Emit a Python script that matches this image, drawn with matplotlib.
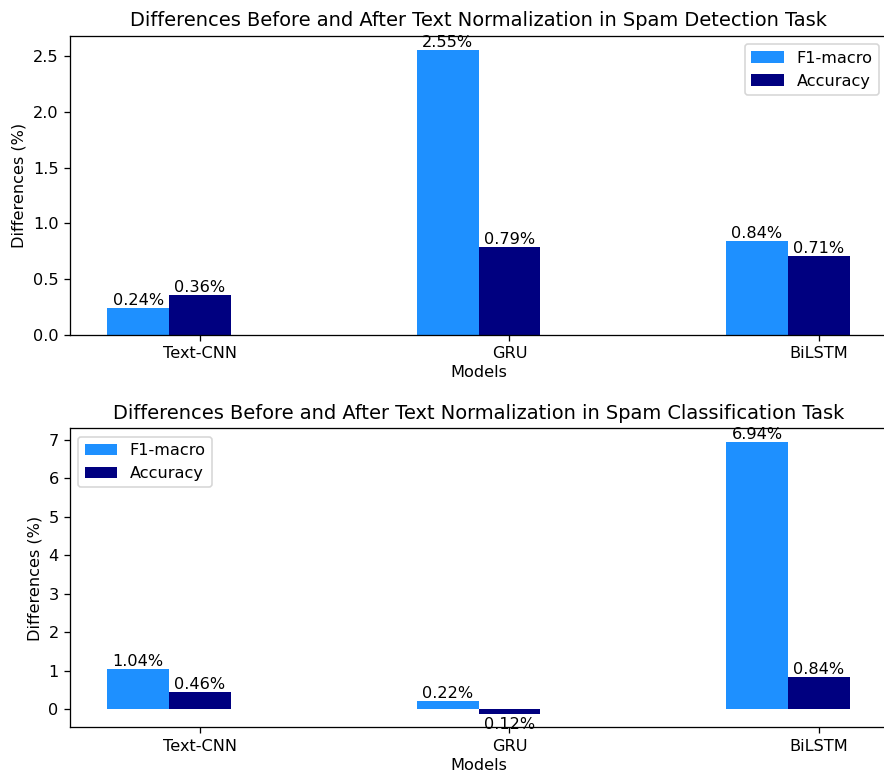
import numpy as np
import matplotlib
matplotlib.use('Agg')
import matplotlib.pyplot as plt

models = ['Text-CNN', 'GRU', 'BiLSTM']

# Spam detection task
det_f1 = [0.24, 2.55, 0.84]
det_acc = [0.36, 0.79, 0.71]

# Spam classification task
cls_f1 = [1.04, 0.22, 6.94]
cls_acc = [0.46, -0.12, 0.84]

titles = ['Differences Before and After Text Normalization in Spam Detection Task',
          'Differences Before and After Text Normalization in Spam Classification Task']
legend_locs = ['upper right', 'upper left']

x = np.arange(len(models))
width = 0.2

DPI = 116
fig, axes = plt.subplots(2, 1, figsize=(884 / DPI, 773 / DPI), dpi=DPI)
fig.subplots_adjust(left=0.0792, right=1.0034, top=0.9534, bottom=0.0589, hspace=0.3126)


def label_bars(ax, bars):
    for b in bars:
        h = b.get_height()
        if h >= 0:
            ax.annotate(f'{abs(h):.2f}%', xy=(b.get_x() + b.get_width() / 2, h),
                        xytext=(0, 0), textcoords='offset points', ha='center', va='bottom')
        else:
            ax.annotate(f'{abs(h):.2f}%', xy=(b.get_x() + b.get_width() / 2, h),
                        xytext=(0, -2), textcoords='offset points', ha='center', va='top')


for ax, f1, acc, title, loc in zip(axes, [det_f1, cls_f1], [det_acc, cls_acc], titles, legend_locs):
    b1 = ax.bar(x - width, f1, width, label='F1-macro', color='dodgerblue')
    b2 = ax.bar(x, acc, width, label='Accuracy', color='navy')
    label_bars(ax, b1)
    label_bars(ax, b2)
    ax.set_xticks(x)
    ax.set_xticklabels(models)
    ax.set_xlabel('Models', labelpad=2.5)
    ax.set_ylabel('Differences (%)')
    ax.set_title(title)
    ax.legend(loc=loc)

fig.savefig('out.png', dpi=DPI)
